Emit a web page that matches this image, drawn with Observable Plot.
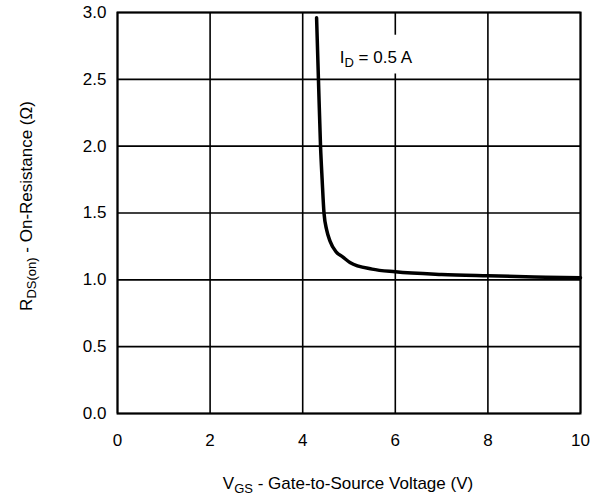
<!DOCTYPE html>
<html><head><meta charset="utf-8">
<script src="https://cdn.jsdelivr.net/npm/d3@7"></script>
<script src="https://cdn.jsdelivr.net/npm/@observablehq/plot@0.6"></script>
<style>body{margin:0;background:#fff} svg{font-family:"Liberation Sans",Arial,sans-serif}</style>
</head><body><div id="chart"></div>
<script>
const vgs = [4.30, 4.34, 4.385, 4.42, 4.46, 4.52, 4.59, 4.72, 4.87, 5.02, 5.5, 6.0, 7.0, 8.0, 9.0, 10.0];
const rds = [2.96, 2.5, 2.0, 1.75, 1.5, 1.37, 1.29, 1.21, 1.17, 1.13, 1.08, 1.06, 1.04, 1.03, 1.022, 1.015];
const xTicks = [0, 2, 4, 6, 8, 10];
const yTicks = [0, 0.5, 1.0, 1.5, 2.0, 2.5, 3.0];
const annotation = [{x: 4.8, y: 2.66, label: "I_D = 0.5 A"}];
const xLabel = ["V", "GS", " - Gate-to-Source Voltage (V)"];
const yLabel = ["R", "DS(on)", " - On-Resistance (Ω)"];

const data = vgs.map((x, i) => ({x, y: rds[i]}));
const FS = 17;
const chart = Plot.plot({
  width: 603, height: 500,
  marginLeft: 117, marginRight: 23, marginTop: 12, marginBottom: 87,
  style: {fontFamily: '"Liberation Sans", Arial, sans-serif', fontSize: FS + "px", background: "#fff", color: "#000", overflow: "visible"},
  x: {domain: [0, 10], ticks: xTicks, tickSize: 0, tickPadding: 20, label: null, tickFormat: d => String(d)},
  y: {domain: [0, 3], ticks: yTicks, tickSize: 0, tickPadding: 11, tickFormat: d3.format(".1f"), label: null},
  marks: [
    Plot.ruleX(xTicks, {stroke: "#000", strokeWidth: 1.6}),
    Plot.ruleY(yTicks, {stroke: "#000", strokeWidth: 1.6}),
    Plot.rect(annotation, {x1: d => d.x - 0.1, x2: d => d.x + 1.75, y1: d => d.y - 0.12, y2: d => d.y + 0.17, fill: "white"}),
    Plot.text(annotation, {x: "x", y: "y", text: "label", textAnchor: "start", fontSize: FS, fill: "#000"}),
    Plot.line(data, {x: "x", y: "y", stroke: "#000", strokeWidth: 3.5, curve: "monotone-x"}),
    Plot.frame({stroke: "#000", strokeWidth: 2})
  ]
});
document.getElementById("chart").appendChild(chart);
const svg = d3.select(chart);

function subText(sel, parts, size) {
  sel.text(null);
  sel.append("tspan").text(parts[0]);
  sel.append("tspan").attr("font-size", Math.round(size * 0.78)).attr("dy", 4).text(parts[1]);
  sel.append("tspan").attr("dy", -4).text(parts[2]);
}

svg.selectAll("text").filter(function() { return this.textContent === annotation[0].label; })
  .each(function() { subText(d3.select(this), ["I", "D", " = 0.5 A"], FS); });

subText(svg.append("text").attr("x", 348).attr("y", 489).attr("text-anchor", "middle")
  .attr("font-size", FS).attr("fill", "#000"), xLabel, FS);
subText(svg.append("text").attr("transform", "translate(32,206) rotate(-90)").attr("text-anchor", "middle")
  .attr("font-size", FS).attr("fill", "#000"), yLabel, FS);
</script></body></html>
